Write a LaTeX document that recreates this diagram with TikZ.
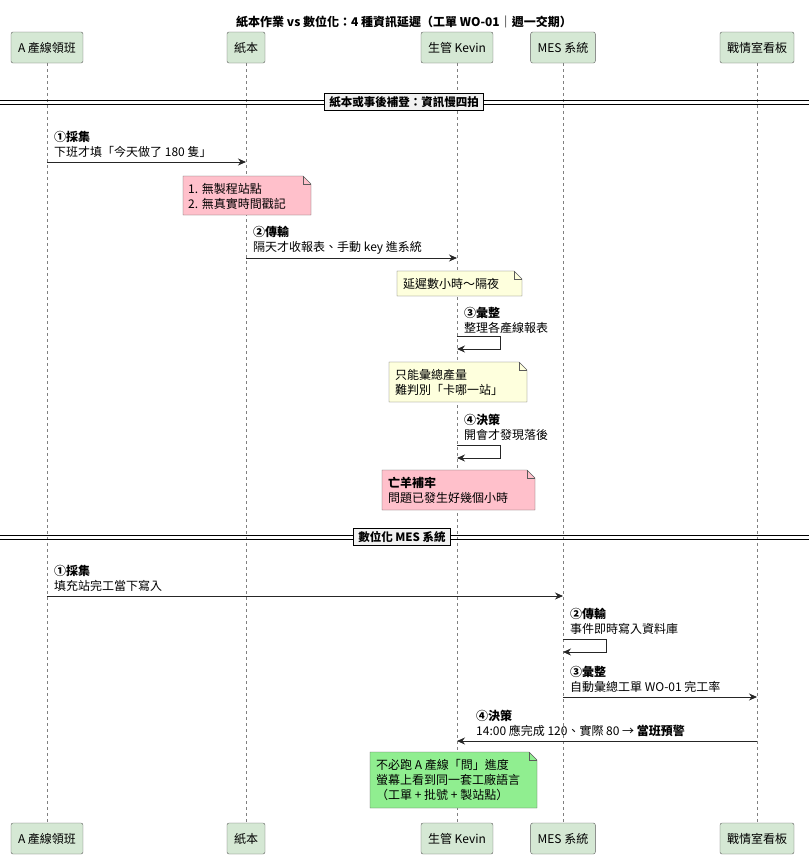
\documentclass[tikz,border=0pt]{standalone}
\usepackage{fontspec}
\setmainfont{Noto Sans CJK TC}
\usetikzlibrary{arrows.meta}
\definecolor{pbox}{HTML}{D5E8D4}
\definecolor{pline}{HTML}{5A5A5A}
\definecolor{npink}{HTML}{FFC0CB}
\definecolor{nyel}{HTML}{FEFFDD}
\definecolor{ngreen}{HTML}{90EE90}
\begin{document}
\begin{tikzpicture}[x=1pt,y=-1pt,
  every node/.style={font=\fontsize{12}{15}\selectfont,inner sep=0pt},
  part/.style={draw=pline,fill=pbox,rounded corners=2pt,minimum height=31pt,inner xsep=7pt},
  life/.style={draw=gray,dashed,line width=0.6pt},
  msg/.style={draw=black!85,line width=0.8pt,-{Stealth[length=8pt,width=7pt]}},
  lbl/.style={anchor=west,align=left},
  divtext/.style={draw=black,line width=1.2pt,fill=white!95!black,font=\bfseries\fontsize{11.5}{14}\selectfont,inner xsep=5pt,inner ysep=3pt}]
\useasboundingbox (0,0) rectangle (809,860);
\node[font=\bfseries\fontsize{12}{14}\selectfont] (title) at (404,22) {紙本作業 vs 數位化：4 種資訊延遲（工單 WO-01｜週一交期）};
\foreach \n/\x/\t in {a/47/A 產線領班, b/246/紙本 / Excel, c/457/生管 Kevin, d/563/MES 系統, e/757/戰情室看板}{
  \node[part] (\n t) at (\x,47.5) {\t};
  \node[part] (\n b) at (\x,838.5) {\t};
  \draw[life] (\n t.south) -- (\n b.north);
}
% divider 1
\draw[line width=0.8pt] (0,100) -- (809,100) (0,104) -- (809,104);
\node[divtext] (d1) at (404,102) {紙本或事後補登：資訊慢四拍};
% msg 1
\coordinate (m1a) at (47,162); \coordinate (m1b) at (246,162);
\draw[msg] (m1a) -- (m1b);
\node[lbl] (l1) at (54,144) {\textbf{①採集}\\下班才填「今天做了 180 隻」};
% note 1
\draw[draw=pline,fill=npink] (183,176) -- (303,176) -- (311,184) -- (311,215) -- (183,215) -- cycle;
\draw[draw=pline] (303,176) -- (303,184) -- (311,184);
\node[lbl] (n1) at (188,196) {1. 無製程站點\\2. 無真實時間戳記};
% msg 2
\coordinate (m2a) at (246,258); \coordinate (m2b) at (457,258);
\draw[msg] (m2a) -- (m2b);
\node[lbl] (l2) at (253,240) {\textbf{②傳輸}\\隔天才收報表、手動 key 進系統};
% note 2
\draw[draw=pline,fill=nyel] (397,271) -- (514,271) -- (522,279) -- (522,296) -- (397,296) -- cycle;
\draw[draw=pline] (514,271) -- (514,279) -- (522,279);
\node[lbl] (n2) at (403,284) {延遲數小時～隔夜};
% msg 3 self
\coordinate (s3) at (457,336);
\draw[msg] (s3) -- (500,336) -- (500,349) -- (457,349);
\node[lbl] (l3) at (464,320) {\textbf{③彙整}\\整理各產線報表};
% note 3
\draw[draw=pline,fill=nyel] (389,362) -- (519,362) -- (527,370) -- (527,402) -- (389,402) -- cycle;
\draw[draw=pline] (519,362) -- (519,370) -- (527,370);
\node[lbl] (n3) at (395,382) {只能彙總產量\\難判別「卡哪一站」};
% msg 4 self
\coordinate (s4) at (457,445);
\draw[msg] (s4) -- (500,445) -- (500,458) -- (457,458);
\node[lbl] (l4) at (464,427) {\textbf{④決策}\\開會才發現落後};
% note 4
\draw[draw=pline,fill=npink] (382,470) -- (527,470) -- (535,478) -- (535,510) -- (382,510) -- cycle;
\draw[draw=pline] (527,470) -- (527,478) -- (535,478);
\node[lbl] (n4) at (388,490) {\textbf{亡羊補牢}\\問題已發生好幾個小時};
% divider 2
\draw[line width=0.8pt] (0,535) -- (809,535) (0,539) -- (809,539);
\node[divtext] (d2) at (402,537) {數位化 MES 系統};
% msg 5
\coordinate (m5a) at (47,596); \coordinate (m5b) at (563,596);
\draw[msg] (m5a) -- (m5b);
\node[lbl] (l5) at (54,578) {\textbf{①採集}\\填充站完工當下寫入};
% msg 6 self
\coordinate (s6) at (563,639);
\draw[msg] (s6) -- (606,639) -- (606,652) -- (563,652);
\node[lbl] (l6) at (570,621) {\textbf{②傳輸}\\事件即時寫入資料庫};
% msg 7
\coordinate (m7a) at (563,697); \coordinate (m7b) at (757,697);
\draw[msg] (m7a) -- (m7b);
\node[lbl] (l7) at (570,679) {\textbf{③彙整}\\自動彙總工單 WO-01 完工率};
% msg 8
\coordinate (m8a) at (757,741); \coordinate (m8b) at (457,741);
\draw[msg] (m8a) -- (m8b);
\node[lbl] (l8) at (476,723) {\textbf{④決策}\\14:00 應完成 120、實際 80 → \textbf{當班預警}};
% note 5
\draw[draw=pline,fill=ngreen] (370,752) -- (529,752) -- (537,760) -- (537,808) -- (370,808) -- cycle;
\draw[draw=pline] (529,752) -- (529,760) -- (537,760);
\node[lbl] (n5) at (376,780) {不必跑 A 產線「問」進度\\螢幕上看到同一套工廠語言\\（工單 + 批號 + 製站點）};
\end{tikzpicture}
\end{document}
